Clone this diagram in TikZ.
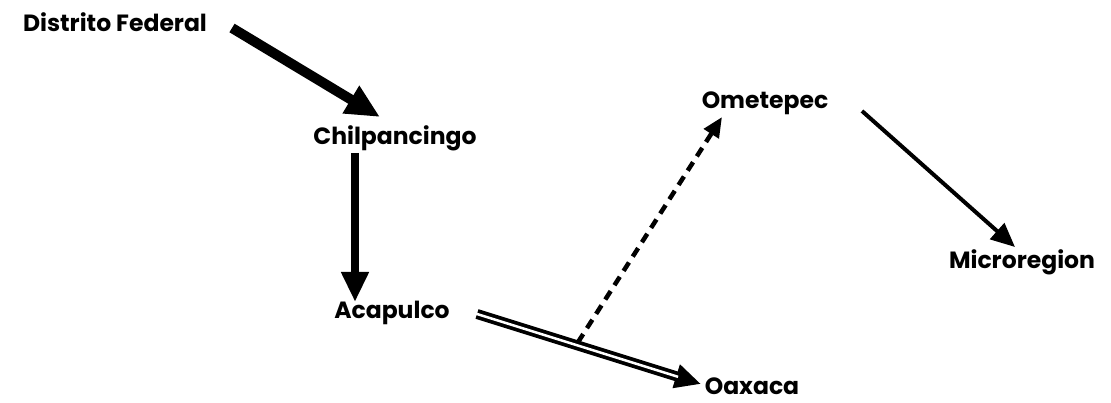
\documentclass[tikz,border=0pt]{standalone}
\usepackage{fontspec}
\setmainfont{Poppins}
\usetikzlibrary{arrows.meta,calc}
\begin{document}
\begin{tikzpicture}[x=1pt,y=-1pt,
  place/.style={font=\fontsize{23.5}{28}\selectfont\bfseries, inner sep=2pt},
  heavy/.style={line width=10pt, -{Triangle[length=34pt,width=30pt]}},
  medium/.style={line width=7.5pt, -{Triangle[length=30pt,width=26pt]}},
  light/.style={line width=4pt, -{Triangle[length=24pt,width=21pt]}},
  dashedlink/.style={line width=4.5pt, dash pattern=on 10pt off 7pt, -{Triangle[length=20pt,width=17pt]}}]
\useasboundingbox (0,0) rectangle (1111,403);
\node[place] (df) at (115,22) {Distrito Federal};
\node[place] (chil) at (395,138) {Chilpancingo};
\node[place] (aca) at (392,313) {Acapulco};
\node[place] (oax) at (752,386) {Oaxaca};
\node[place] (ome) at (765,103) {Ometepec};
\node[place] (mic) at (1022,262) {Microregion};

\coordinate (dfout) at (232,28);
\coordinate (chilin) at (380,117);
\coordinate (acaout) at (477,314);
\coordinate (oaxin) at (701,384);
\coordinate (fork) at ($(acaout)!0.45!(oaxin)$);
\coordinate (omein) at (722,117);
\coordinate (omeout) at (862,111);
\coordinate (micin) at (1015,247);

\draw[heavy] (dfout) -- (chilin);
\draw[medium] (chil.south -| 355,0) -- ($(aca.north -| 355,0)+(0,3)$);
\draw[line width=10pt, -{Triangle[length=26pt,width=23pt]}] (acaout) -- (oaxin);
\draw[white, line width=2.5pt, shorten >=24pt, shorten <=-1pt] (acaout) -- (oaxin);
\draw[dashedlink] ($(fork)+(0,-3)$) -- (omein);
\draw[light] (omeout) -- (micin);
\end{tikzpicture}
\end{document}
